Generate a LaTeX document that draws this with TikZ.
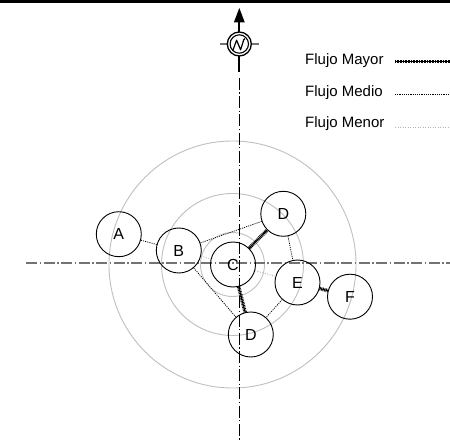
\documentclass[tikz,border=0pt]{standalone}
\usepackage{fontspec}
\setmainfont{Liberation Sans}
\begin{document}
\begin{tikzpicture}[x=1pt,y=-1pt,
  every node/.style={font=\fontsize{15}{18}\selectfont},
  station/.style={circle,draw,line width=0.9pt,minimum size=45pt,inner sep=0pt,font=\fontsize{16}{19}\selectfont},
  ring/.style={draw=black!25,line width=0.9pt},
  axisv/.style={line width=1.1pt,dash pattern=on 12pt off 2.5pt on 1.2pt off 2.5pt},
  axish/.style={draw=black!55,line width=1.6pt,dash pattern=on 11pt off 2.5pt on 1.5pt off 2.5pt},
  mayor/.style={line width=0.9pt,postaction={draw,line width=3.6pt,dash pattern=on 0.8pt off 0.8pt}},
  medio/.style={line width=0.75pt,dash pattern=on 1.1pt off 1.1pt},
  menor/.style={draw=black!30,line width=0.8pt,dash pattern=on 1pt off 1.5pt},
  legtext/.style={anchor=base west,inner sep=0pt},
]
\useasboundingbox (0,0) rectangle (450,441);
% top rule
\fill (0,0) rectangle (450,2.6);
% concentric rings
\coordinate (O) at (232.5,264.5);
\draw[ring] (O) circle[radius=32];
\draw[ring] (O) circle[radius=71];
\draw[ring] (O) circle[radius=123.5];
% axes
\coordinate (vtop) at (239.3,78);
\coordinate (vbot) at (239.3,441);
\coordinate (hl) at (26,262.8);
\coordinate (hr) at (450,262.8);
\draw[axish] (hl) -- (hr);
\draw[axisv] (vtop) -- (vbot);
% north symbol
\coordinate (N) at (239.3,44);
\fill (239.3,8) -- (233.8,22.5) -- (244.8,22.5) -- cycle;
\draw[line width=2pt] (239.3,21) -- (239.3,32);
\draw[line width=2pt] (239.3,56) -- (239.3,72);
\draw[black!55,line width=1.5pt] (219.5,44) -- (227,44);
\draw[black!55,line width=1.5pt] (251.6,44) -- (259.3,44);
\draw[line width=1.3pt] (N) circle[radius=12];
\draw[line width=1.1pt] (N) circle[radius=9.2];
\draw[line width=1.2pt,line join=round] (232.8,50.5) -- (236.6,40.2) -- (240.6,49.8) -- (243.8,39.6) -- (245,38.6);
% stations
\node[station] (A) at (118.8,234.2) {A};
\node[station] (B) at (178.8,250.5) {B};
\node[station] (C) at (233,264.5) {C};
\node[station] (Dt) at (283.3,213.8) {D};
\node[station] (E) at (297.5,282.5) {E};
\node[station] (F) at (350,296.7) {F};
\node[station] (Db) at (250.8,334.5) {D};
% flows
\draw[mayor] (C) -- (Dt);
\draw[mayor] (C) -- (Db);
\draw[mayor] (E) -- (F);
\draw[medio] (A) -- (B);
\draw[medio] (B) -- (Dt);
\draw[medio] (B) -- (Db);
\draw[medio] (Dt) -- (E);
\draw[medio] (E) -- (Db);
\draw[menor] (B) -- (C);
\draw[menor] (C) -- (E);
% legend
\node[legtext] (l1) at (305,64.5) {Flujo Mayor};
\node[legtext] (l2) at (305,96.5) {Flujo Medio};
\node[legtext] (l3) at (305,128) {Flujo Menor};
\coordinate (m1a) at (395,61.5); \coordinate (m1b) at (450,61.5);
\coordinate (m2a) at (395,94); \coordinate (m2b) at (450,94);
\coordinate (m3a) at (395,127); \coordinate (m3b) at (450,127);
\draw[line width=0.9pt,postaction={draw,line width=2.6pt,dash pattern=on 0.8pt off 0.8pt}] (m1a) -- (m1b);
\draw[medio] (m2a) -- (m2b);
\draw[menor] (m3a) -- (m3b);
\end{tikzpicture}
\end{document}
